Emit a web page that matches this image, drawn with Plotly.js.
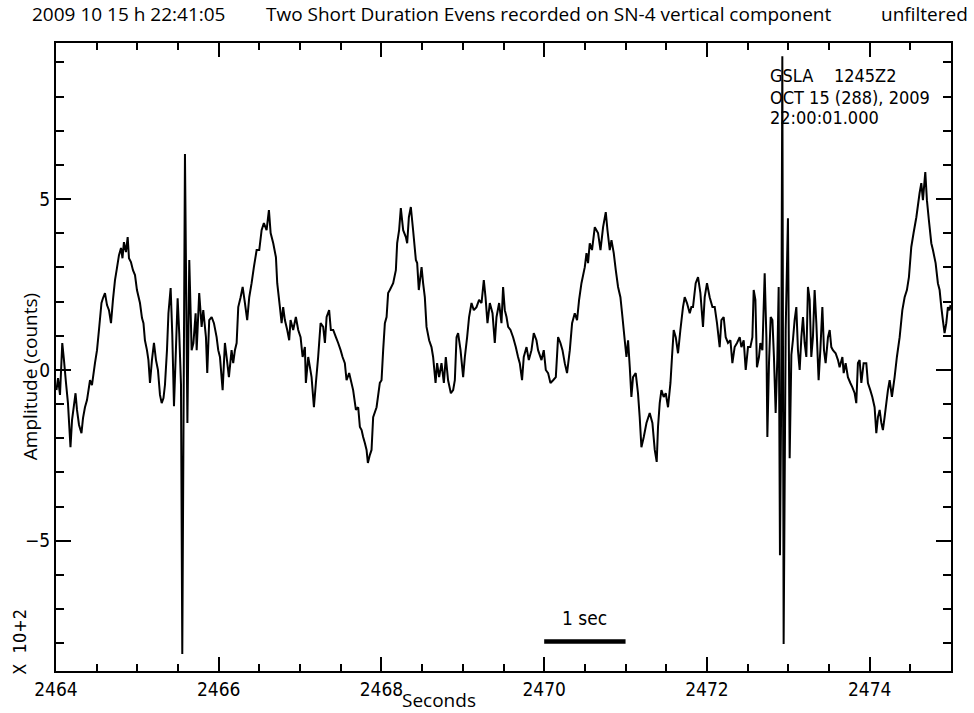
<!DOCTYPE html>
<html>
<head>
<meta charset="utf-8">
<script src="https://cdn.plot.ly/plotly-3.0.1.min.js"></script>
<style>
  html, body { margin: 0; padding: 0; background: #ffffff; }
  #chart { width: 974px; height: 713px; }
</style>
</head>
<body>
<div id="chart"></div>
<script>
// SN-4 vertical component, 2009-10-15, seconds after 22:00:01.000
const timeSec = [
  2464.006, 2464.025, 2464.049, 2464.077, 2464.098, 2464.123, 2464.147, 2464.178, 2464.197, 2464.221,
  2464.240, 2464.258, 2464.283, 2464.313, 2464.332, 2464.356, 2464.381, 2464.418, 2464.442, 2464.479,
  2464.504, 2464.528, 2464.559, 2464.577, 2464.602, 2464.627, 2464.651, 2464.676, 2464.700, 2464.725,
  2464.749, 2464.774, 2464.799, 2464.817, 2464.835, 2464.860, 2464.881, 2464.897, 2464.921, 2464.946,
  2464.971, 2464.995, 2465.032, 2465.057, 2465.075, 2465.093, 2465.118, 2465.136, 2465.155, 2465.179,
  2465.204, 2465.229, 2465.253, 2465.278, 2465.299, 2465.321, 2465.339, 2465.364, 2465.382, 2465.409,
  2465.429, 2465.450, 2465.474, 2465.495, 2465.515, 2465.536, 2465.552, 2465.585, 2465.615, 2465.638,
  2465.667, 2465.689, 2465.716, 2465.729, 2465.760, 2465.790, 2465.810, 2465.843, 2465.859, 2465.883,
  2465.913, 2465.941, 2465.974, 2465.994, 2466.015, 2466.048, 2466.076, 2466.097, 2466.125, 2466.158,
  2466.178, 2466.199, 2466.220, 2466.240, 2466.269, 2466.294, 2466.322, 2466.350, 2466.375, 2466.404,
  2466.432, 2466.466, 2466.498, 2466.527, 2466.555, 2466.588, 2466.617, 2466.638, 2466.670, 2466.703,
  2466.719, 2466.752, 2466.773, 2466.792, 2466.813, 2466.842, 2466.866, 2466.883, 2466.915, 2466.948,
  2466.977, 2467.006, 2467.031, 2467.059, 2467.071, 2467.100, 2467.141, 2467.170, 2467.194, 2467.222,
  2467.252, 2467.284, 2467.305, 2467.326, 2467.357, 2467.378, 2467.407, 2467.440, 2467.468, 2467.498,
  2467.522, 2467.550, 2467.571, 2467.603, 2467.652,
  2467.686, 2467.714, 2467.735, 2467.756, 2467.775, 2467.796, 2467.817, 2467.833, 2467.857, 2467.878,
  2467.898, 2467.940, 2467.980, 2468.001, 2468.021, 2468.042, 2468.063, 2468.082, 2468.103, 2468.144,
  2468.177, 2468.193, 2468.217, 2468.238, 2468.267, 2468.300, 2468.316, 2468.337, 2468.361, 2468.389,
  2468.423, 2468.439, 2468.459, 2468.493, 2468.512, 2468.533, 2468.554, 2468.586, 2468.615, 2468.635,
  2468.665, 2468.684, 2468.709, 2468.738, 2468.767, 2468.791, 2468.819, 2468.853, 2468.881, 2468.902,
  2468.923, 2468.942, 2468.972, 2469.004, 2469.025, 2469.053, 2469.077, 2469.107, 2469.135, 2469.168,
  2469.200, 2469.230, 2469.258, 2469.279, 2469.303, 2469.332, 2469.365, 2469.393, 2469.414, 2469.446,
  2469.475, 2469.495, 2469.516, 2469.537, 2469.557, 2469.586, 2469.618, 2469.651, 2469.679, 2469.700,
  2469.728, 2469.749, 2469.783, 2469.811, 2469.844, 2469.872, 2469.905, 2469.925, 2469.967, 2469.995,
  2470.020, 2470.048, 2470.077, 2470.110, 2470.143, 2470.171, 2470.200, 2470.225, 2470.253, 2470.281,
  2470.315, 2470.343, 2470.376, 2470.404, 2470.429, 2470.458, 2470.499, 2470.520, 2470.539, 2470.560,
  2470.588, 2470.622, 2470.662, 2470.692, 2470.724, 2470.757, 2470.778, 2470.806, 2470.827, 2470.855,
  2470.880, 2470.908, 2470.937, 2470.962, 2470.990, 2471.011, 2471.031, 2471.052, 2471.072, 2471.092,
  2471.125, 2471.153, 2471.174, 2471.195, 2471.224, 2471.257, 2471.297, 2471.330, 2471.359, 2471.383,
  2471.399, 2471.420, 2471.441, 2471.469, 2471.494, 2471.522, 2471.552, 2471.571, 2471.592, 2471.617,
  2471.645, 2471.674, 2471.706, 2471.727, 2471.755, 2471.789, 2471.809, 2471.829, 2471.862, 2471.891,
  2471.920, 2471.952, 2471.973, 2472.001, 2472.034, 2472.068, 2472.096, 2472.124, 2472.157, 2472.178,
  2472.206, 2472.231, 2472.259, 2472.289, 2472.313, 2472.341, 2472.370, 2472.403, 2472.424, 2472.452,
  2472.477, 2472.505, 2472.534, 2472.559, 2472.575, 2472.596, 2472.615, 2472.640, 2472.657, 2472.682,
  2472.710, 2472.731, 2472.743, 2472.763, 2472.784, 2472.805, 2472.824, 2472.845, 2472.866, 2472.882,
  2472.898, 2472.913, 2472.927, 2472.943, 2472.968, 2472.996, 2473.017, 2473.038, 2473.057, 2473.078,
  2473.099, 2473.119, 2473.140, 2473.161, 2473.181, 2473.201, 2473.222, 2473.242, 2473.263, 2473.283,
  2473.303, 2473.324, 2473.345, 2473.373, 2473.394, 2473.419, 2473.439, 2473.459, 2473.488, 2473.509,
  2473.529, 2473.549, 2473.582, 2473.611, 2473.631, 2473.665, 2473.681, 2473.705, 2473.733, 2473.763,
  2473.787, 2473.816, 2473.836, 2473.856, 2473.877, 2473.898, 2473.926, 2473.959, 2473.979, 2474.008,
  2474.033, 2474.061, 2474.082, 2474.102, 2474.123, 2474.144, 2474.163, 2474.184, 2474.205, 2474.225,
  2474.246, 2474.274, 2474.307, 2474.335, 2474.369, 2474.402, 2474.430, 2474.458, 2474.483, 2474.512,
  2474.540, 2474.574, 2474.614, 2474.635, 2474.655, 2474.684, 2474.704, 2474.728, 2474.758, 2474.778,
  2474.811, 2474.839, 2474.860, 2474.881, 2474.900, 2474.921, 2474.942, 2474.962, 2474.982, 2474.995
];

// amplitude in units of 10^2 counts
const amplitude = [
  -0.59, -0.24, -0.73, 0.79, 0.29, -0.38, -0.97, -2.26, -1.47, -1.03,
  -0.68, -1.17, -1.61, -1.85, -1.41, -1.09, -0.88, -0.30, -0.44, 0.20,
  0.58, 1.17, 1.96, 2.10, 2.25, 1.90, 1.75, 1.37, 2.05, 2.63,
  2.98, 3.36, 3.57, 3.27, 3.74, 3.45, 3.89, 3.27, 3.16, 2.92,
  2.78, 2.34, 1.96, 1.52, 1.37, 0.87, 0.58, 0.29, -0.38, 0.29,
  0.79, 0.29, 0.00, -0.73, -0.97, -0.82, -0.44, 0.58, 1.66, 2.40,
  1.05, -1.06, 0.61, 2.10, 1.05, -0.41, -8.31, 6.32, -1.55, 3.22,
  0.58, 0.79, 1.66, 0.58, 2.25, 1.26, 1.75, 0.96, -0.09, 1.46,
  1.55, 1.37, 0.96, 0.58, 0.38, -0.59, 0.79, 0.38, -0.21, 0.58,
  0.20, 0.58, 0.79, 1.84, 2.13, 2.43, 1.96, 1.46, 2.13, 2.54,
  3.01, 3.51, 3.51, 4.09, 4.30, 4.09, 4.68, 4.01, 3.71, 3.30,
  2.54, 1.84, 1.37, 1.84, 1.46, 1.17, 0.87, 1.46, 1.17, 1.55,
  1.17, 0.96, 0.38, 0.67, -0.38, 0.38, -0.21, -1.09, -0.38, 0.38,
  1.37, 1.26, 0.79, 1.55, 1.75, 1.17, 1.17, 0.96, 0.79, 0.58,
  0.38, 0.20, -0.30, -0.09, -0.59,
  -1.17, -1.09, -1.67, -1.76, -1.96, -2.14, -2.34, -2.72, -2.49, -2.34,
  -1.38, -1.09, -0.38, -0.30, 0.58, 1.37, 1.55, 2.25, 2.34, 2.54,
  2.92, 3.71, 4.09, 4.74, 4.09, 3.89, 3.71, 4.47, 4.77, 4.09,
  3.22, 3.13, 2.34, 3.01, 2.54, 2.13, 1.26, 0.87, 0.67, 0.38,
  -0.38, 0.20, -0.21, 0.20, -0.38, 0.38, -0.30, -0.68, -0.59, -0.30,
  0.96, 1.08, 0.58, -0.21, 0.38, 0.96, 1.55, 1.96, 1.75, 1.84,
  2.05, 1.96, 2.63, 2.13, 1.37, 1.96, 1.66, 0.79, 1.55, 1.96,
  1.37, 2.43, 1.75, 1.55, 1.26, 1.17, 0.96, 0.67, 0.38, 0.20,
  -0.30, 0.38, 0.67, 0.29, 0.58, 1.08, 0.87, 0.58, 0.29, 0.58,
  0.00, -0.09, -0.38, -0.30, -0.21, 0.96, 0.79, 0.58, 0.20, -0.09,
  0.58, 1.37, 1.66, 1.46, 2.05, 2.54, 3.01, 3.42, 3.13, 3.71,
  3.51, 4.18, 4.01, 3.51, 4.18, 4.62, 4.09, 3.51, 3.80, 3.42,
  2.92, 2.43, 2.13, 1.55, 0.87, 0.38, 0.87, 0.08, -0.79, -0.21,
  -0.09, -0.68, -1.38, -2.26, -1.96, -1.55, -1.26, -1.55, -2.34, -2.69,
  -1.67, -0.97, -0.59, -0.79, -0.68, -1.09, -0.38, 0.38, 1.17, 0.96,
  0.49, 1.17, 1.84, 2.13, 1.96, 1.66, 1.84, 1.84, 2.54, 2.72,
  2.25, 1.26, 2.13, 2.54, 2.13, 1.84, 1.84, 1.37, 0.67, 1.46,
  1.55, 0.96, 0.79, 0.87, 0.20, 0.67, 0.79, 0.96, 0.67, 0.87,
  0.00, 0.67, 0.67, 0.96, 2.34, 2.05, 0.08, 0.38, 0.79, 0.58,
  2.83, 0.96, -1.96, 0.20, 1.55, 1.46, 0.38, -1.26, 0.38, 2.43,
  -5.42, -0.88, 9.18, -8.02, 1.17, 4.44, -2.58, 0.44, 0.87, 1.46,
  1.84, 0.58, 0.00, 0.96, 1.55, 0.79, 0.38, 2.43, 2.05, 0.38,
  0.96, 2.34, 1.37, -0.30, 0.58, 1.84, 0.58, 0.20, 0.96, 1.17,
  0.67, 0.58, 0.49, 0.29, 0.08, 0.38, -0.09, 0.20, -0.21, -0.38,
  -0.50, -0.68, -0.97, 0.20, 0.29, -0.38, 0.20, 0.20, -0.38, -0.59,
  -0.79, -1.09, -1.85, -1.38, -1.17, -1.55, -1.76, -1.38, -0.97, -0.59,
  -0.30, -0.79, -0.21, 0.38, 0.96, 1.75, 2.13, 2.34, 2.72, 3.60,
  4.01, 4.47, 5.18, 5.47, 4.97, 5.79, 4.97, 4.39, 3.71, 3.51,
  3.13, 2.54, 2.34, 1.84, 1.46, 1.08, 1.37, 1.84, 1.75, 1.90
];

const xTickVals = [2464, 2466, 2468, 2470, 2472, 2474];
const xTickText = ['2464', '2466', '2468', '2470', '2472', '2474'];
const yTickVals = [-5, 0, 5];
const yTickText = ['\u22125', '0', '5'];

// one-second scale bar (start, end in seconds) and its level in 10^2 counts
const scaleBarSec = [2470, 2471];
const scaleBarLevel = -7.95;

const headerLines = ['GSLA\u00a0\u00a0\u00a0\u00a01245Z2', 'OCT 15 (288), 2009', '22:00:01.000'];

const NARROW = '"Liberation Sans Narrow", "Arial Narrow", "DejaVu Sans Condensed", "Liberation Sans", sans-serif';
const HUMANIST = '"Open Sans", "Noto Sans", "Liberation Sans", sans-serif';

const trace = {
  x: timeSec,
  y: amplitude,
  type: 'scatter',
  mode: 'lines',
  line: { color: '#000000', width: 2, simplify: false },
  hoverinfo: 'skip'
};

const textAnn = (text, x, y, font, extra) => Object.assign({
  text: text, xref: 'paper', yref: 'paper', x: x, y: y,
  showarrow: false, font: font, xanchor: 'left', yanchor: 'middle'
}, extra || {});

const titleFont = { family: HUMANIST, size: 19, color: '#000' };
const labelFont = { family: NARROW, size: 18, color: '#000' };

const annotations = [
  textAnn('2009 10 15 h 22:41:05', -0.029, 1.046, titleFont),
  textAnn('Two Short Duration Evens recorded on SN-4 vertical component', 0.232, 1.046, titleFont),
  textAnn('unfiltered', 1.0212, 1.046, titleFont, { xanchor: 'right' }),
  textAnn('Seconds', 0.428, -0.046, titleFont, { xanchor: 'center' }),
  textAnn('Amplitude (counts)', -0.029, 0.468, titleFont, { xanchor: 'center', textangle: -90 }),
  textAnn('X\u00a0\u00a010+2', -0.041, 0.047, labelFont, { xanchor: 'center', textangle: -90 }),
  textAnn(headerLines[0], 0.7955, 0.949, labelFont),
  textAnn(headerLines[1], 0.7955, 0.914, labelFont),
  textAnn(headerLines[2], 0.7955, 0.881, labelFont),
  { text: '1 sec', xref: 'x', yref: 'paper', x: (scaleBarSec[0] + scaleBarSec[1]) / 2, y: 0.0844,
    showarrow: false, font: { family: NARROW, size: 19, color: '#000' }, xanchor: 'center', yanchor: 'middle' }
];

const shapes = [
  { type: 'line', xref: 'x', yref: 'y', x0: scaleBarSec[0], x1: scaleBarSec[1],
    y0: scaleBarLevel, y1: scaleBarLevel, line: { color: '#000', width: 4.5 } }
];

const axisCommon = {
  showline: true, linecolor: '#000', linewidth: 2, mirror: 'ticks',
  ticks: 'inside', tickcolor: '#000', tickwidth: 2,
  showgrid: false, zeroline: false, fixedrange: true,
  tickfont: { family: NARROW, size: 19, color: '#000' }
};

const layout = {
  width: 974, height: 713,
  margin: { l: 56, r: 23, t: 43, b: 42 },
  paper_bgcolor: '#ffffff', plot_bgcolor: '#ffffff',
  showlegend: false,
  xaxis: Object.assign({}, axisCommon, {
    range: [2464, 2475], tickmode: 'array', tickvals: xTickVals, ticktext: xTickText, ticklen: 14,
    minor: { tick0: 2464, dtick: 0.5, ticks: 'inside', ticklen: 7, tickwidth: 2, tickcolor: '#000', showgrid: false }
  }),
  yaxis: Object.assign({}, axisCommon, {
    range: [-8.81, 9.57], tickmode: 'array', tickvals: yTickVals, ticktext: yTickText, ticklen: 15,
    minor: { tick0: 0, dtick: 1, ticks: 'inside', ticklen: 8, tickwidth: 2, tickcolor: '#000', showgrid: false }
  }),
  annotations: annotations,
  shapes: shapes
};

Plotly.newPlot('chart', [trace], layout, { displayModeBar: false, staticPlot: true });
</script>
</body>
</html>
